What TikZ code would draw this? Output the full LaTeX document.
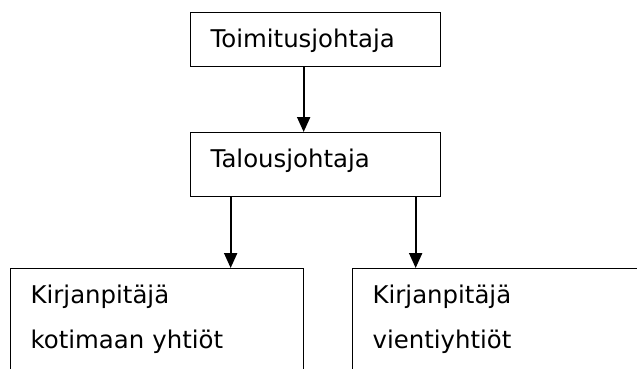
\documentclass[tikz,border=0pt]{standalone}
\usepackage{fontspec}
\setmainfont{DejaVu Sans}
\usetikzlibrary{arrows.meta}

\tikzset{
  orgbox/.style = {shape=rectangle, draw, line width=1.3pt,
                   anchor=north west, align=left,
                   inner xsep=20pt, inner ysep=0pt,
                   text height=34.7pt,
                   font=\fontsize{24.4pt}{45.3pt}\selectfont},
  link/.style   = {draw, line width=2pt,
                   -{Triangle[width=13pt,length=15pt]}}
}

\begin{document}
\begin{tikzpicture}[x=1pt, y=1pt]
  \useasboundingbox (0,0) rectangle (637,-368);
  \clip (0,0) rectangle (637,-368);

  \node [orgbox, text width=210pt, text depth=19.3pt] (toimitus)
    at (190,-12) {Toimitusjohtaja};
  \node [orgbox, text width=210pt, text depth=29.3pt] (talous)
    at (190,-132) {Talousjohtaja};
  \node [orgbox, text width=253pt, text depth=100pt] (kotimaa)
    at (10,-268) {Kirjanpitäjä\\kotimaan yhtiöt};
  \node [orgbox, text width=260pt, text depth=100pt] (vienti)
    at (352,-268) {Kirjanpitäjä\\vientiyhtiöt};

  \draw [link] ([xshift=-12pt]toimitus.south)
    -- ([xshift=-12pt]toimitus.south |- talous.north);
  \draw [link] ([xshift=-85pt]talous.south)
    -- ([xshift=-85pt]talous.south |- kotimaa.north);
  \draw [link] ([xshift=100pt]talous.south)
    -- ([xshift=100pt]talous.south |- vienti.north);
\end{tikzpicture}
\end{document}
